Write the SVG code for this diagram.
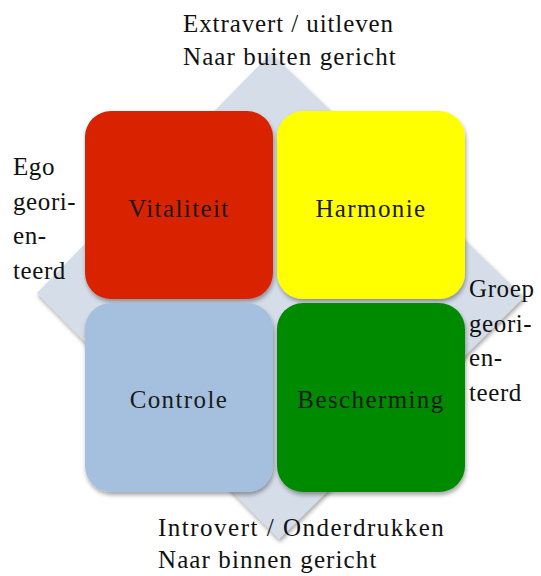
<svg xmlns="http://www.w3.org/2000/svg" width="541" height="576" viewBox="0 0 541 576">
  <defs>
    <filter id="shadow" x="-10%" y="-10%" width="130%" height="130%">
      <feDropShadow dx="1" dy="3" stdDeviation="2" flood-color="#000" flood-opacity="0.35"/>
    </filter>
  </defs>
  <style>
    text { font-family: "Liberation Serif", "DejaVu Serif", serif; font-size: 25px; fill: #111; letter-spacing: 0.6px; }
    .label { text-anchor: middle; letter-spacing: 1.4px; fill: #1a1a1a; }
  </style>
  <rect width="541" height="576" fill="#fff"/>

  <!-- background diamond -->
  <g id="diamond">
    <polygon points="271,53 524,297 279,539 37,293" fill="#d5dde9" filter="url(#shadow)"/>
  </g>

  <g id="vitaliteit">
    <rect x="85" y="111" width="188" height="188" rx="26" fill="#d82200" filter="url(#shadow)"/>
    <text class="label" x="179" y="217">Vitaliteit</text>
  </g>
  <g id="harmonie">
    <rect x="277" y="111" width="188" height="188" rx="26" fill="#ffff00" filter="url(#shadow)"/>
    <text class="label" x="371" y="217">Harmonie</text>
  </g>
  <g id="controle">
    <rect x="85" y="303" width="188" height="189" rx="26" fill="#a5c0df" filter="url(#shadow)"/>
    <text class="label" x="179" y="408">Controle</text>
  </g>
  <g id="bescherming">
    <rect x="277" y="303" width="188" height="189" rx="26" fill="#008a00" filter="url(#shadow)"/>
    <text class="label" x="371" y="408">Bescherming</text>
  </g>

  <g id="connectors"></g>

  <!-- axis captions -->
  <g id="top-caption">
    <text x="183" y="32" style="letter-spacing:0.9px">Extravert / uitleven</text>
    <text x="183" y="65" style="letter-spacing:1.1px">Naar buiten gericht</text>
  </g>
  <g id="bottom-caption">
    <text x="158" y="536" style="letter-spacing:1.5px">Introvert / Onderdrukken</text>
    <text x="158" y="568" style="letter-spacing:1.1px">Naar binnen gericht</text>
  </g>
  <g id="left-caption">
    <text x="13" y="175">Ego</text>
    <text x="13" y="210">geori-</text>
    <text x="13" y="244">en-</text>
    <text x="13" y="279">teerd</text>
  </g>
  <g id="right-caption">
    <text x="469" y="297">Groep</text>
    <text x="469" y="332">geori-</text>
    <text x="469" y="366">en-</text>
    <text x="469" y="401">teerd</text>
  </g>
</svg>
